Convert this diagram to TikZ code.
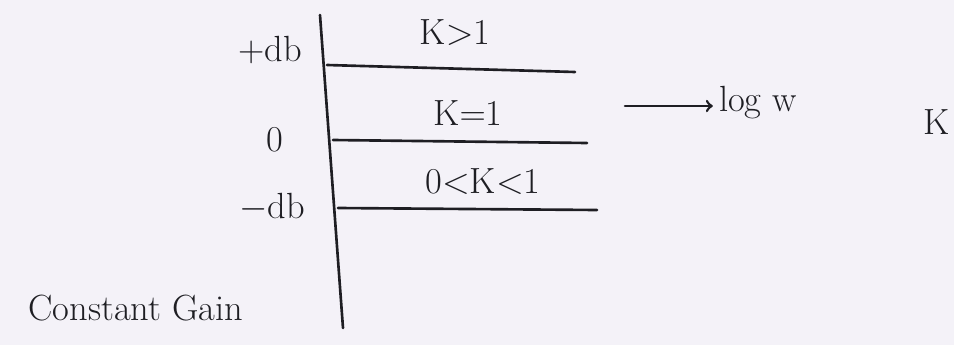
\documentclass[tikz,border=0pt]{standalone}
\usepackage{amsmath}
\definecolor{paper}{RGB}{244,242,248}
\definecolor{ink}{RGB}{30,30,35}

\begin{document}
\begin{tikzpicture}[x=0.02cm, y=-0.02cm, every node/.style={text=ink, font=\huge},
    pen/.style={draw=ink, line width=1.5pt, line cap=round}]
  \def\picw{954};
  \def\pich{345};
  \fill[paper] (0,0)rectangle(\picw,\pich);
  \useasboundingbox (0,0)rectangle(\picw,\pich);
        %axis
        \coordinate (top) at (320,15);
        \coordinate (bot) at (343,328);
        \draw[pen] (top)--(bot);
        %gain lines
        \coordinate (a1) at (327,65);
        \coordinate (a2) at (575,72);
        \coordinate (b1) at (333,140);
        \coordinate (b2) at (587,143);
        \coordinate (c1) at (338,208);
        \coordinate (c2) at (597,210);
        \draw[pen] (a1)--(a2);
        \draw[pen] (b1)--(b2);
        \draw[pen] (c1)--(c2);

        %levels
        \node (plusdb) at (270,50) {+db};
        \node (zero) at (275,140) {0};
        \node (minusdb) at (272,207) {$-$db};
        %regions
        \node (kgt) at (455,33) {K$>$1};
        \node (keq) at (468,113) {K$=$1};
        \node (klt) at (483,182) {0$<$K$<$1};

        %frequency
        \node (logw) at (758,103) {log w};
        \coordinate (w0) at (625,106);
        \draw[pen,->] (w0)--(w0-|logw.west);
        \node (kk) at (937,122) {K};
        \node (const) at (136,308) {Constant Gain};
      \end{tikzpicture}
\end{document}
